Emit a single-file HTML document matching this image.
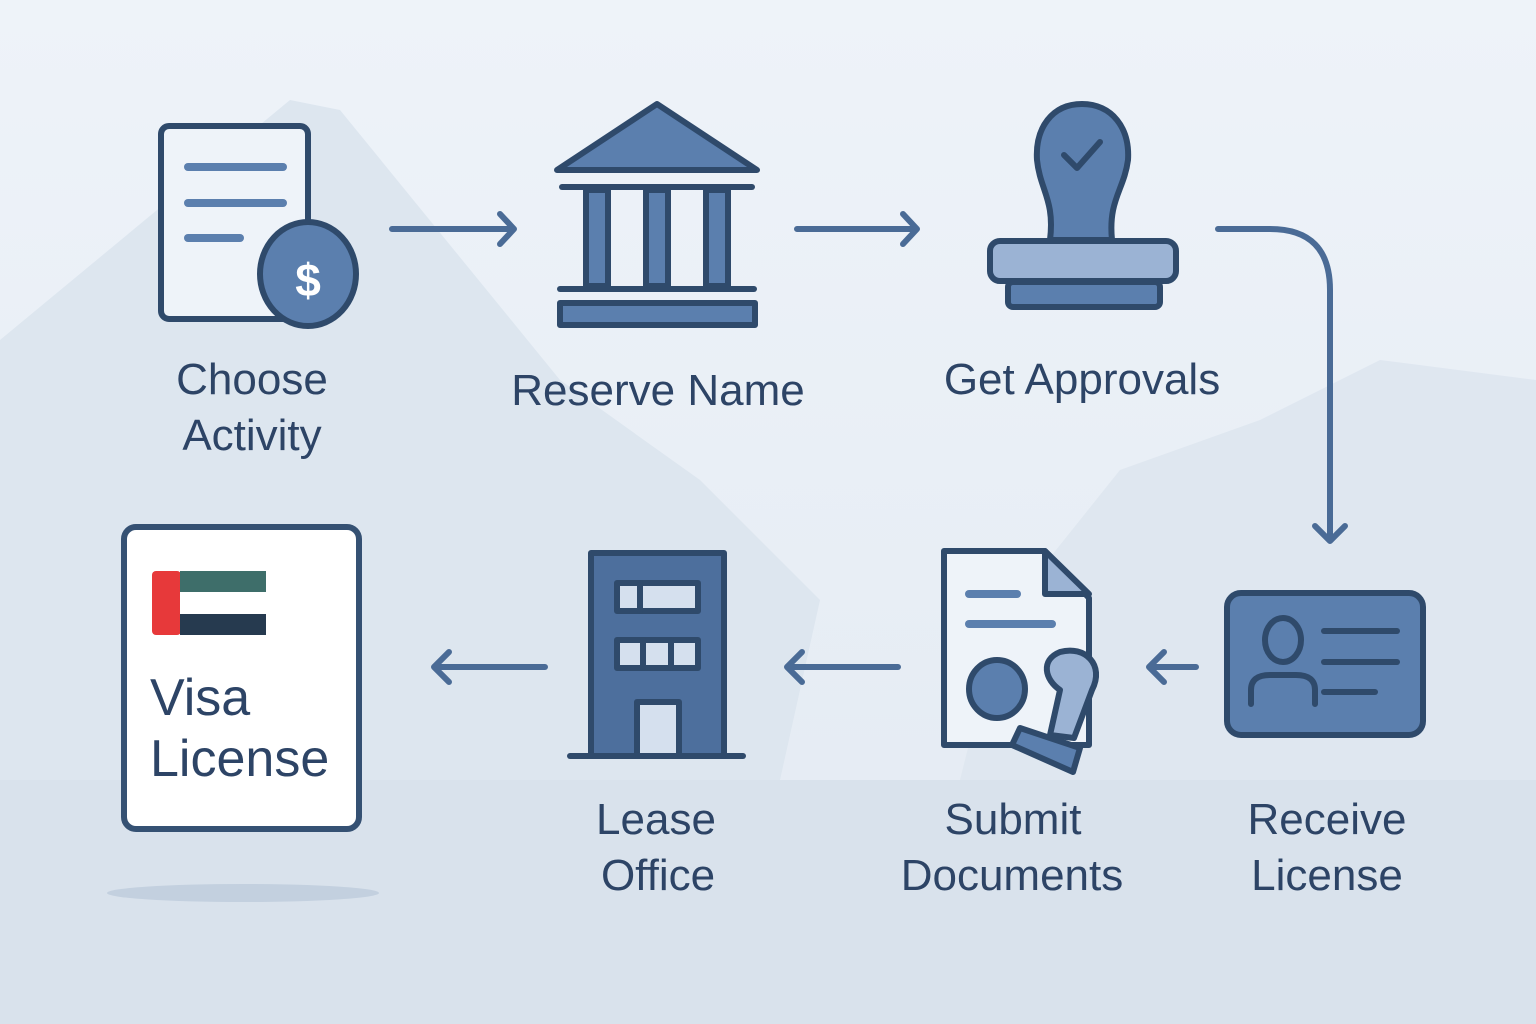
<!DOCTYPE html>
<html><head><meta charset="utf-8"><style>
html,body{margin:0;padding:0;width:1536px;height:1024px;overflow:hidden;background:#e9eff6}
svg{display:block}
text{font-family:"Liberation Sans","DejaVu Sans",sans-serif;fill:#2d4466}
</style></head><body>
<svg width="1536" height="1024" viewBox="0 0 1536 1024" xmlns="http://www.w3.org/2000/svg">
<defs>
<linearGradient id="bg" x1="0" y1="0" x2="0" y2="1"><stop offset="0" stop-color="#eef3f9"/><stop offset="1" stop-color="#e3eaf2"/></linearGradient>
</defs>
<rect width="1536" height="1024" fill="url(#bg)"/>
<path d="M0 340 L290 100 L340 110 L560 380 L700 480 L820 600 L780 780 L0 780Z" fill="#dde6ef"/>
<path d="M1000 620 L1120 470 L1260 420 L1380 360 L1536 380 L1536 780 L960 780Z" fill="#dfe7f0"/>
<rect x="0" y="780" width="1536" height="244" fill="#d9e2ec"/>
<ellipse cx="243" cy="893" rx="136" ry="9" fill="#c3d0df"/>
<g stroke="#2f4a6b" stroke-width="6" stroke-linecap="round" stroke-linejoin="round">
<rect x="161" y="126" width="147" height="193" rx="8" fill="#eef3f9"/>
<line x1="188" y1="167" x2="283" y2="167" stroke="#5b7fae" stroke-width="8"/>
<line x1="188" y1="203" x2="283" y2="203" stroke="#5b7fae" stroke-width="8"/>
<line x1="188" y1="238" x2="240" y2="238" stroke="#5b7fae" stroke-width="8"/>
<ellipse cx="308" cy="274" rx="48" ry="52" fill="#5b7fae"/>
<path d="M392 229 H514 M500 214 L514 229 L500 244" fill="none" stroke="#4a6b96"/>
<path d="M797 229 H917 M903 214 L917 229 L903 244" fill="none" stroke="#4a6b96"/>
<path d="M1218 229 H1270 Q1330 229 1330 290 V540 M1315 526 L1330 541 L1345 526" fill="none" stroke="#4a6b96"/>
<path d="M1196 667 H1150 M1164 652 L1149 667 L1164 682" fill="none" stroke="#4a6b96"/>
<path d="M898 667 H788 M802 652 L787 667 L802 682" fill="none" stroke="#4a6b96"/>
<path d="M545 667 H435 M449 652 L434 667 L449 682" fill="none" stroke="#4a6b96"/>
<path d="M657 104 L757 170 L557 170Z" fill="#5b7fae"/>
<line x1="562" y1="187" x2="752" y2="187"/>
<rect x="586" y="190" width="22" height="96" fill="#5b7fae"/>
<rect x="646" y="190" width="22" height="96" fill="#5b7fae"/>
<rect x="706" y="190" width="22" height="96" fill="#5b7fae"/>
<line x1="560" y1="289" x2="754" y2="289"/>
<rect x="560" y="303" width="195" height="22" fill="#5b7fae"/>
<path d="M1082 104 C1052 104 1035 128 1037 160 C1040 190 1055 200 1050 240 L1112 240 C1108 200 1124 190 1128 160 C1130 128 1112 104 1082 104Z" fill="#5b7fae"/>
<path d="M1064 155 L1077 168 L1100 142" fill="none" stroke="#2f4a6b"/>
<rect x="990" y="241" width="186" height="40" rx="10" fill="#9bb3d4"/>
<rect x="1008" y="282" width="152" height="25" rx="5" fill="#5b7fae"/>
<rect x="1227" y="593" width="196" height="142" rx="14" fill="#5b7fae"/>
<ellipse cx="1283" cy="640" rx="18" ry="22" fill="#5b7fae"/>
<path d="M1251 704 V690 Q1251 675 1270 675 H1296 Q1315 675 1315 690 V704" fill="#5b7fae"/>
<line x1="1324" y1="631" x2="1397" y2="631"/>
<line x1="1324" y1="662" x2="1397" y2="662"/>
<line x1="1324" y1="692" x2="1375" y2="692"/>
<path d="M944 551 H1045 L1089 598 V745 H944Z" fill="#eef3f9"/>
<path d="M1045 551 V594 H1089Z" fill="#9bb3d4"/>
<line x1="969" y1="594" x2="1017" y2="594" stroke="#5b7fae" stroke-width="8"/>
<line x1="969" y1="624" x2="1052" y2="624" stroke="#5b7fae" stroke-width="8"/>
<ellipse cx="997" cy="689" rx="28" ry="29" fill="#5b7fae"/>
<path d="M1050 735 L1060 690 C1045 680 1040 660 1060 652 C1085 645 1105 665 1092 690 L1074 738Z" fill="#9bb3d4"/>
<path d="M1012 745 L1020 728 L1080 748 L1073 772Z" fill="#5b7fae"/>
<rect x="591" y="553" width="133" height="203" fill="#4d6f9d"/>
<rect x="617" y="583" width="81" height="28" fill="#d5e0ee"/>
<line x1="640" y1="583" x2="640" y2="611"/>
<rect x="617" y="640" width="81" height="28" fill="#d5e0ee"/>
<line x1="643" y1="640" x2="643" y2="668"/><line x1="671" y1="640" x2="671" y2="668"/>
<rect x="637" y="702" width="42" height="54" fill="#d5e0ee"/>
<line x1="570" y1="756" x2="743" y2="756"/>
<rect x="124" y="527" width="235" height="302" rx="12" fill="#ffffff" stroke="#355173"/>
</g>
<text x="308" y="296" font-size="46" text-anchor="middle" style="fill:#fff;font-weight:bold">$</text>
<rect x="152" y="571" width="29" height="64" rx="4" fill="#e7393a"/>
<rect x="180" y="571" width="86" height="21" fill="#3e6e6a"/>
<rect x="180" y="592" width="86" height="22" fill="#ffffff"/>
<rect x="180" y="614" width="86" height="21" fill="#263a4f"/>
<g font-size="44">
<text x="252" y="394" text-anchor="middle">Choose</text>
<text x="252" y="450" text-anchor="middle">Activity</text>
<text x="658" y="405" text-anchor="middle">Reserve Name</text>
<text x="1082" y="394" text-anchor="middle">Get Approvals</text>
<text x="656" y="834" text-anchor="middle">Lease</text>
<text x="658" y="890" text-anchor="middle">Office</text>
<text x="1013" y="834" text-anchor="middle">Submit</text>
<text x="1012" y="890" text-anchor="middle">Documents</text>
<text x="1327" y="834" text-anchor="middle">Receive</text>
<text x="1327" y="890" text-anchor="middle">License</text>
</g>
<g font-size="52">
<text x="150" y="715">Visa</text>
<text x="150" y="776">License</text>
</g>
</svg>
</body></html>
